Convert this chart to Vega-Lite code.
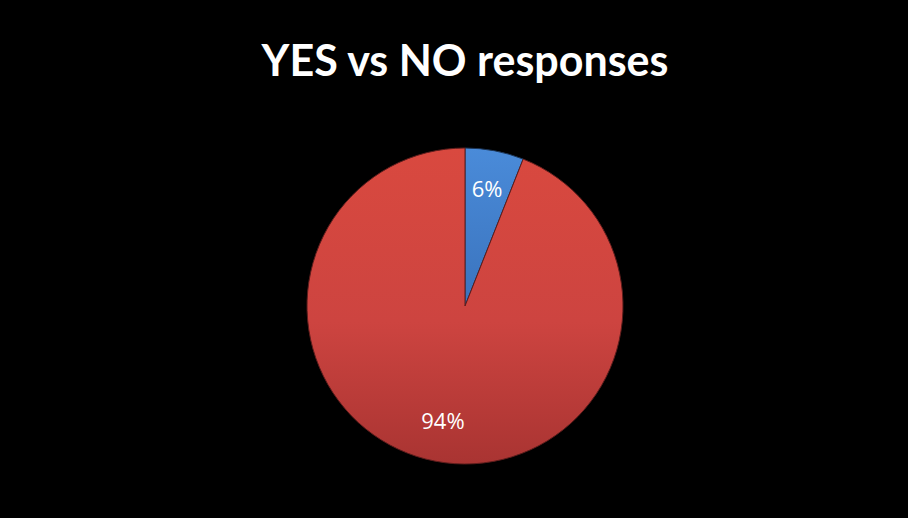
{
  "$schema": "https://vega.github.io/schema/vega-lite/v6.json",
  "width": 908,
  "height": 518,
  "autosize": {"type": "fit", "contains": "padding"},
  "padding": {"left": 22, "top": 42, "right": 0, "bottom": 0},
  "background": "black",
  "title": {
    "text": "YES vs NO responses",
    "color": "white",
    "font": "Lato",
    "fontSize": 43,
    "fontWeight": "bold",
    "anchor": "middle",
    "offset": 9
  },
  "config": {"view": {"stroke": null}},
  "data": {
    "values": [
      {"response": "YES", "share": 0.06, "rank": 1},
      {"response": "NO", "share": 0.94, "rank": 2}
    ]
  },
  "transform": [
    {"stack": "share", "groupby": [], "sort": [{"field": "rank"}], "as": ["t0", "t1"]}
  ],
  "layer": [
    {
      "transform": [{"filter": "datum.response === 'YES'"}],
      "mark": {
        "type": "arc",
        "outerRadius": 158,
        "stroke": "#1c3557",
        "strokeWidth": 1,
        "fill": {
          "gradient": "linear", "x1": 0, "y1": 0, "x2": 0, "y2": 1,
          "stops": [{"offset": 0, "color": "#4a8bd9"}, {"offset": 1, "color": "#3a73bd"}]
        }
      },
      "encoding": {
        "theta": {"field": "t0", "type": "quantitative", "scale": {"domain": [0, 1]}},
        "theta2": {"field": "t1"}
      }
    },
    {
      "transform": [{"filter": "datum.response === 'NO'"}],
      "mark": {
        "type": "arc",
        "outerRadius": 158,
        "stroke": "#5e1d1c",
        "strokeWidth": 1,
        "fill": {
          "gradient": "linear", "x1": 0, "y1": 0, "x2": 0, "y2": 1,
          "stops": [{"offset": 0, "color": "#d9493f"}, {"offset": 0.55, "color": "#cd4440"}, {"offset": 1, "color": "#a93432"}]
        }
      },
      "encoding": {
        "theta": {"field": "t0", "type": "quantitative", "scale": {"domain": [0, 1]}},
        "theta2": {"field": "t1"}
      }
    },
    {
      "mark": {"type": "text", "radius": 118, "font": "Open Sans", "fontSize": 22, "fill": "white"},
      "encoding": {
        "theta": {"field": "share", "type": "quantitative", "stack": true, "scale": {"domain": [0, 1]}},
        "order": {"field": "rank", "type": "quantitative"},
        "text": {"field": "share", "type": "quantitative", "format": ".0%"}
      }
    }
  ]
}
